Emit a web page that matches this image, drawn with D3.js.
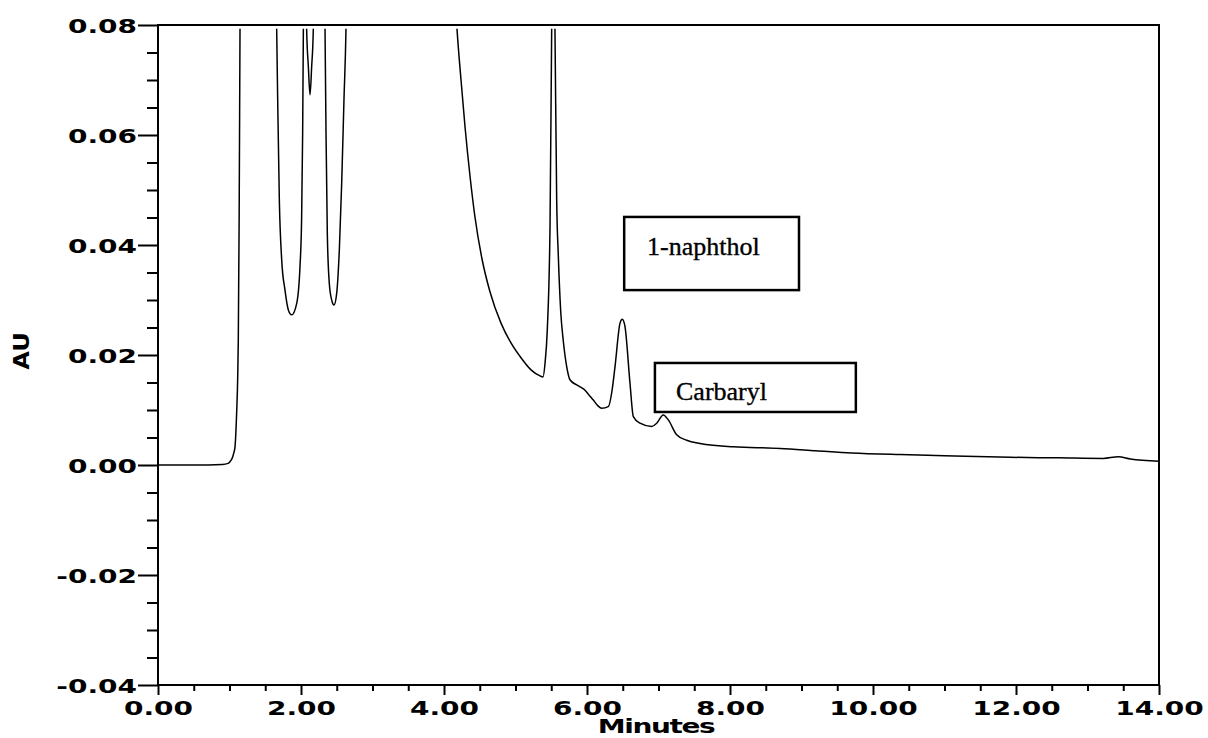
<!DOCTYPE html>
<html>
<head>
<meta charset="utf-8">
<script src="https://cdn.jsdelivr.net/npm/d3@7"></script>
<style>
body { margin:0; background:#fff; }
svg { display:block; }
.tickLabel { font-family:"DejaVu Sans", Arial, sans-serif; font-weight:bold; font-size:20px; fill:#000; }
.boxLabel { font-family:"Liberation Serif", "Times New Roman", serif; font-size:26px; fill:#000; stroke:#000; stroke-width:0.35px; }
</style>
</head>
<body>
<svg width="1208" height="738"></svg>
<script>

// retention time (minutes)
var times = [0.00,0.50,0.90,0.98,1.007,1.04,1.06,1.077,1.10,1.114,1.123,1.135,1.147,1.16,1.25,1.45,1.60,1.645,
    1.660,1.674,1.697,1.730,1.776,1.823,1.870,1.940,1.986,2.009,2.023,2.033,2.045,2.06,2.07,
    2.079,2.103,2.126,2.149,2.172,2.19,2.25,2.31,
    2.336,2.350,2.368,2.396,2.429,2.462,2.499,2.536,2.569,2.601,2.629,2.66,3.00,3.60,4.05,4.13,
    4.182,4.238,4.294,4.364,4.434,4.531,4.643,4.797,4.937,5.077,5.217,5.343,5.385,5.413,5.445,5.483,5.506,5.53,
    5.552,5.576,5.599,5.632,5.669,5.716,5.762,5.85,5.902,5.972,6.03,6.088,6.15,6.205,6.298,6.350,
    6.392,6.462,6.494,6.531,6.601,6.648,6.741,6.905,6.975,7.067,7.137,7.254,7.394,7.58,8.046,8.28,
    8.70,9.20,9.70,10.38,11.00,11.92,12.60,13.22,13.43,13.60,14.00]

// absorbance (AU) at each time, values above 0.08 are off scale
var absorbance = [0.0000,0.0000,0.0001,0.0003,0.0006,0.0013,0.0022,0.0033,0.0095,0.0155,0.0227,0.045,0.0793,0.11,0.20,0.25,0.16,0.10,
    0.0792,0.0664,0.0482,0.0373,0.0318,0.0282,0.0273,0.0294,0.0361,0.0451,0.0603,0.0792,0.11,0.12,0.10,
    0.0792,0.0724,0.0673,0.0724,0.0792,0.10,0.14,0.11,
    0.0792,0.0603,0.0421,0.0330,0.0300,0.0291,0.0312,0.0391,0.0512,0.0664,0.0792,0.11,0.30,0.40,0.15,0.092,
    0.0793,0.0700,0.0615,0.0525,0.0450,0.0375,0.0315,0.0258,0.0222,0.0195,0.0173,0.0162,0.0160,0.0185,0.0247,0.0435,0.0792,0.10,
    0.0792,0.0482,0.0380,0.0280,0.0225,0.0179,0.0155,0.0146,0.0142,0.0136,0.0127,0.0118,0.0108,0.0103,0.0106,0.0135,
    0.0179,0.0258,0.0265,0.0252,0.0149,0.0088,0.0076,0.0070,0.0076,0.0091,0.0082,0.0055,0.0045,0.0039,0.0033,0.0032,
    0.0030,0.0026,0.0022,0.0019,0.0017,0.0014,0.0013,0.0012,0.0015,0.0011,0.0007]

// ticks
var xTickValues = [0,2,4,6,8,10,12,14]
var xTickLabels = ["0.00","2.00","4.00","6.00","8.00","10.00","12.00","14.00"]
var yTickValues = [-0.04,-0.02,0,0.02,0.04,0.06,0.08]
var yTickLabels = ["-0.04","-0.02","0.00","0.02","0.04","0.06","0.08"]

// peak labels, box corners given in minutes / AU
var peakNames = ["1-naphthol","Carbaryl"]
var peakBoxes = [[6.52,0.0451,8.965,0.0318],[6.95,0.01855,9.76,0.00964]]
var peakTextAt = [[6.84,0.0382],[7.245,0.0118]]

var svg = d3.select("svg")

var xScale = d3.scaleLinear()
    .domain([0,14])
    .range([158,1159])
var yScale = d3.scaleLinear()
    .domain([-0.04,0.08])
    .range([685,25])

var minorX = d3.range(0,14.01,0.5).filter(function(d){ return xTickValues.indexOf(d)<0 })
var minorY = d3.range(-0.04,0.0801,0.005).filter(function(d){
    return !yTickValues.some(function(v){ return Math.abs(v-d)<1e-6 })
})

//minor ticks first
svg.append("g")
    .attr("transform","translate(158,0)")
    .call(d3.axisLeft(yScale).tickValues(minorY).tickSize(11).tickSizeOuter(0).tickFormat(""))
svg.append("g")
    .attr("transform","translate(0,685)")
    .call(d3.axisBottom(xScale).tickValues(minorX).tickSize(6).tickSizeOuter(0).tickFormat(""))

var yAxis = svg.append("g")
    .attr("transform","translate(158,0)")
    .call(d3.axisLeft(yScale).tickValues(yTickValues).tickSize(20).tickSizeOuter(0)
        .tickFormat(function(d,i){ return yTickLabels[i] }))
var xAxis = svg.append("g")
    .attr("transform","translate(0,685)")
    .call(d3.axisBottom(xScale).tickValues(xTickValues).tickSize(10).tickSizeOuter(0)
        .tickFormat(function(d,i){ return xTickLabels[i] }))

svg.selectAll(".tick line").attr("stroke","#000").attr("stroke-width",2)
svg.selectAll(".domain").remove()

// wide bold labels
yAxis.selectAll("text")
    .attr("class","tickLabel")
    .attr("x",-15)
    .attr("dy","0.36em")
    .attr("transform","scale(1.4,1)")
xAxis.selectAll("text")
    .attr("class","tickLabel")
    .attr("y",30)
    .attr("dy",0)
    .attr("transform","scale(1.4,1)")
yAxis.attr("font-size",null).attr("font-family",null)
xAxis.attr("font-size",null).attr("font-family",null)

//frame
svg.append("rect")
    .attr("x",xScale(0))
    .attr("y",yScale(0.08))
    .attr("width",xScale(14)-xScale(0))
    .attr("height",yScale(-0.04)-yScale(0.08))
    .attr("fill","none")
    .attr("stroke","#000")
    .attr("stroke-width",2)

//clip trace a little below the top
svg.append("clipPath")
    .attr("id","plotClip")
    .append("rect")
    .attr("x",xScale(0))
    .attr("y",yScale(0.0793))
    .attr("width",xScale(14)-xScale(0))
    .attr("height",yScale(-0.04)-yScale(0.0793))

var points = times.map(function(t,i){ return [t,absorbance[i]] })
var line = d3.line()
    .x(function(d){ return xScale(d[0]) })
    .y(function(d){ return yScale(d[1]) })
    .curve(d3.curveMonotoneX)

svg.append("path")
    .datum(points)
    .attr("clip-path","url(#plotClip)")
    .attr("d",line)
    .attr("fill","none")
    .attr("stroke","#000")
    .attr("stroke-width",1.5)

//peak label boxes
peakNames.forEach(function(name,i){
    var b = peakBoxes[i]
    svg.append("rect")
        .attr("x",xScale(b[0]))
        .attr("y",yScale(b[1]))
        .attr("width",xScale(b[2])-xScale(b[0]))
        .attr("height",yScale(b[3])-yScale(b[1]))
        .attr("fill","none")
        .attr("stroke","#000")
        .attr("stroke-width",2.5)
    svg.append("text")
        .attr("class","boxLabel")
        .attr("x",xScale(peakTextAt[i][0]))
        .attr("y",yScale(peakTextAt[i][1]))
        .text(name)
})

//axis titles
svg.append("text")
    .attr("class","tickLabel")
    .attr("text-anchor","middle")
    .attr("transform","translate(656,733) scale(1.4,1)")
    .style("letter-spacing","-1px")
    .text("Minutes")

svg.append("text")
    .attr("class","tickLabel")
    .attr("text-anchor","middle")
    .attr("transform","translate(29,351) rotate(-90) scale(1.15,1)")
    .style("font-size","21px")
    .text("AU")

</script>
</body>
</html>
